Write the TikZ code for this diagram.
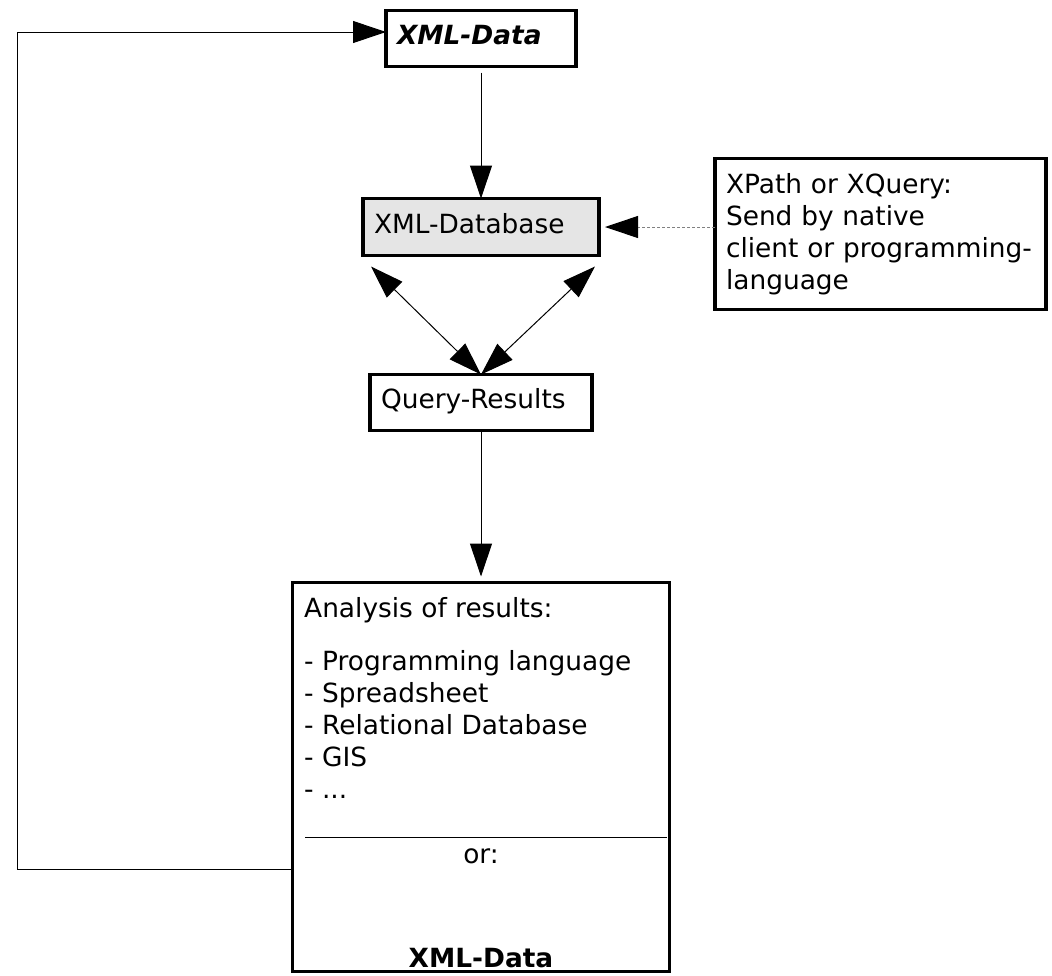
\documentclass[tikz,border=0pt]{standalone}
\usepackage{fontspec}
\setmainfont{DejaVu Sans}
\usepackage{tikz}
\usetikzlibrary{arrows.meta,positioning}

\begin{document}
\begin{tikzpicture}[
    x=1pt, y=1pt,
    node distance=120pt,
    font=\fontsize{26.4pt}{32pt}\selectfont,
    box/.style={rectangle, draw, line width=3.5pt, align=left, inner xsep=11pt, inner ysep=0pt, outer sep=0pt},
    onebox/.style={box, text height=20pt, text depth=8pt},
    arrow/.style={-{Triangle[length=33pt,width=22pt]}, line width=1pt},
    twoway/.style={{Triangle[length=33pt,width=22pt]}-{Triangle[length=33pt,width=22pt]}, line width=1pt},
    hint/.style={-{Triangle[length=33pt,width=22pt,color=black]}, draw=gray, line width=1pt, dash pattern=on 3pt off 2pt}
]
\useasboundingbox (0,0) rectangle (1052,-975);

% XML input
\node[onebox, text width=168pt, minimum height=56pt] (xmldata) at (481,-38.5) {\textbf{\textit{XML-Data}}};

% Database
\node[onebox, fill=black!10, text width=214pt, minimum height=57pt, below=132pt of xmldata] (database) {XML-Database};

% Query languages
\node[box, text width=309pt, minimum height=151pt, right=116pt of database, yshift=-7pt] (xquery)
    {XPath or XQuery:\\Send by native\\client or programming-\\language};

% Results
\node[onebox, text width=200pt, minimum height=56pt, below=119pt of database] (results) {Query-Results};

% Analysis
\node[box, minimum width=377pt, minimum height=389pt, below=152pt of results] (analysis) {};
\node[anchor=north west, align=left, inner sep=0pt] (uses) at ([xshift=11.5pt,yshift=-14.5pt]analysis.north west)
    {Analysis of results:\\[21pt]
     - Programming language\\
     - Spreadsheet\\
     - Relational Database\\
     - GIS\\
     - ...};
\coordinate (sepw) at ([xshift=12.5pt,yshift=-254.5pt]analysis.north west);
\coordinate (sepe) at ([xshift=-2.5pt,yshift=-254.5pt]analysis.north east);
\draw[line width=1pt] (sepw) -- (sepe);
\node[anchor=base, inner sep=0pt] (or) at ([yshift=-280.5pt]analysis.north) {or:};
\node[anchor=base, inner sep=0pt] (dataout) at ([yshift=4.5pt]analysis.south) {\textbf{XML-Data}};

% Connections
\draw[arrow, shorten <=6pt] (xmldata) -- (database);
\draw[twoway] ([xshift=8pt,yshift=-11pt]database.south west) -- (results.north);
\draw[twoway] ([xshift=-4pt,yshift=-11pt]database.south east) -- (results.north);
\draw[hint, shorten >=6pt] (xquery.west |- database.east) -- (database.east);
\draw[arrow, shorten >=6pt] (results) -- (analysis);

% Feedback loop
\coordinate (loop) at (17,-869);
\draw[arrow] (analysis.west |- loop) -- (loop) |- ([yshift=6.5pt]xmldata.west);

\end{tikzpicture}
\end{document}
